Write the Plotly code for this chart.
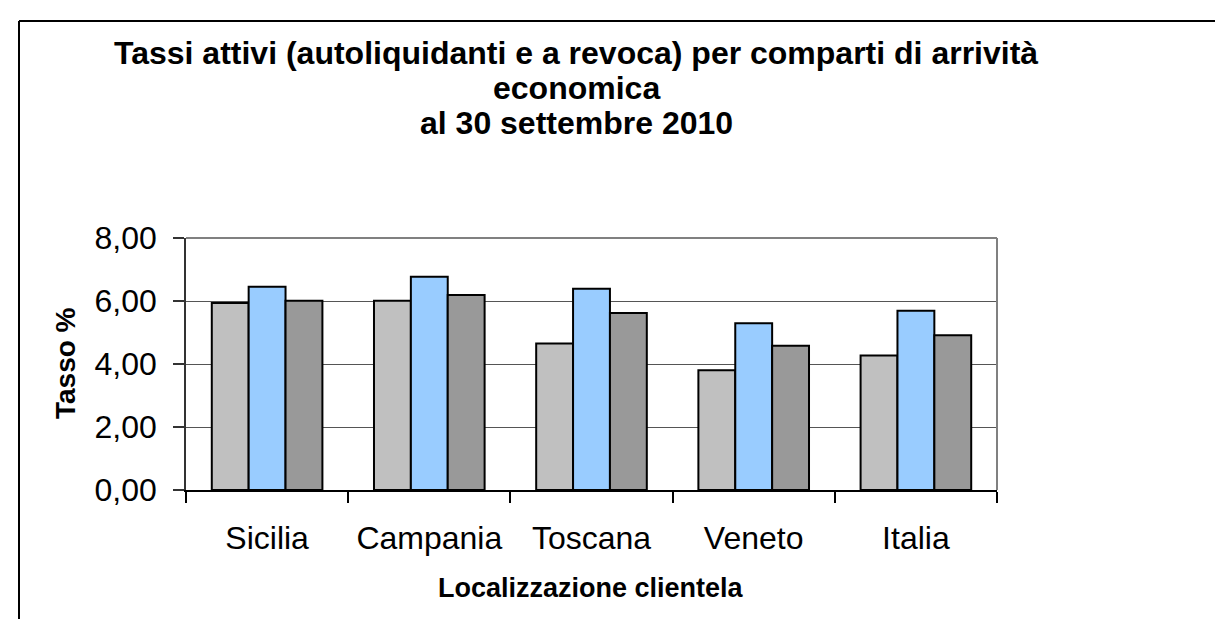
import plotly.graph_objects as go

categories = ["Sicilia", "Campania", "Toscana", "Veneto", "Italia"]
serie_a = [5.94, 6.01, 4.65, 3.80, 4.27]
serie_b = [6.45, 6.77, 6.39, 5.29, 5.69]
serie_c = [6.01, 6.19, 5.62, 4.58, 4.91]
y_ticks = [0, 2, 4, 6, 8]

W, H = 1223, 619
L, R, T, B = 178, 989, 230, 482

def px(x):
    return (x - L) / (R - L)

def py(y):
    return (B - y) / (B - T)

fig = go.Figure()
colors = ["#C0C0C0", "#99CCFF", "#999999"]
for vals, col, name in zip([serie_a, serie_b, serie_c], colors, ["A", "B", "C"]):
    fig.add_trace(go.Bar(x=categories, y=vals, name=name, marker=dict(color=col, line=dict(color="black", width=2))))

font_main = "Liberation Sans, Arial, sans-serif"

fig.update_layout(
    width=W, height=H,
    margin=dict(l=L, r=W - R, t=T, b=H - B, pad=0),
    paper_bgcolor="white", plot_bgcolor="white",
    barmode="group", bargap=0.318, bargroupgap=0,
    showlegend=False,
    separators=",.",
    font=dict(family=font_main, color="black"),
    xaxis=dict(
        showline=True, linecolor="#000000", linewidth=1.5,
        ticks="outside", ticklen=11, tickcolor="#000000", tickwidth=1.5,
        tickson="boundaries", tickfont=dict(size=32, family=font_main),
        ticklabelstandoff=19,
        showgrid=False,
    ),
    yaxis=dict(
        range=[0, 8], tickvals=y_ticks, tickformat=".2f",
        showline=True, linecolor="#333333", linewidth=1.5,
        ticks="outside", ticklen=11, tickcolor="#333333", tickwidth=1.5,
        tickfont=dict(size=32, family=font_main),
        ticklabelstandoff=10,
        showgrid=True, gridcolor="#555555", gridwidth=1.2,
        zeroline=False,
    ),
)

# plot-area frame (top and right, gray)
fig.add_shape(type="line", xref="paper", yref="paper", x0=0, x1=1, y0=1, y1=1,
              line=dict(color="#808080", width=2))
fig.add_shape(type="line", xref="paper", yref="paper", x0=1, x1=1, y0=0, y1=1,
              line=dict(color="#808080", width=2))
# outer chart border (top and left)
fig.add_shape(type="line", xref="paper", yref="paper", x0=px(11), x1=px(1230), y0=py(13), y1=py(13),
              line=dict(color="black", width=2))
fig.add_shape(type="line", xref="paper", yref="paper", x0=px(11), x1=px(11), y0=py(13), y1=py(630),
              line=dict(color="black", width=2))

title_font = dict(family=font_main, size=32, color="black")
title_lines = ["Tassi attivi (autoliquidanti e a revoca) per comparti di arrività",
               "economica",
               "al 30 settembre 2010"]
title_y = [45, 80, 115]
for txt, yy in zip(title_lines, title_y):
    fig.add_annotation(text="<b>" + txt + "</b>",
                       xref="paper", yref="paper", x=px(568), y=py(yy), xanchor="center", yanchor="middle",
                       showarrow=False, font=title_font)

fig.add_annotation(text="<b>Localizzazione clientela</b>",
                   xref="paper", yref="paper", x=px(583), y=py(580), xanchor="center", yanchor="middle",
                   showarrow=False, font=dict(family=font_main, size=27, color="black"))
fig.add_annotation(text="<b>Tasso %</b>", textangle=-90,
                   xref="paper", yref="paper", x=px(57), y=py(355), xanchor="center", yanchor="middle",
                   showarrow=False, font=dict(family=font_main, size=28, color="black"))

fig.write_html("out.html")
